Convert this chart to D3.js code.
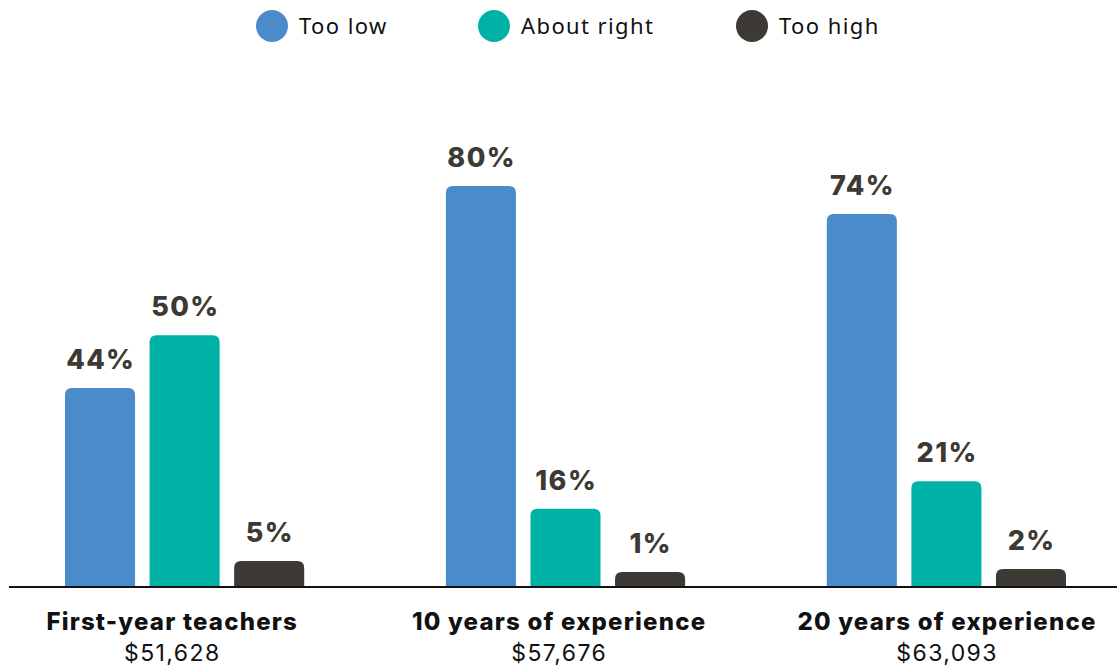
<!DOCTYPE html>
<html>
<head>
<meta charset="utf-8">
<script src="https://cdn.jsdelivr.net/npm/d3@7"></script>
<style>
  html, body { margin: 0; padding: 0; background: #fff; }
  svg { display: block; }
</style>
</head>
<body>
<svg id="chart" width="1117" height="668"></svg>
<script>
// ---- data ----
const categories = ["First-year teachers", "10 years of experience", "20 years of experience"];
const salaries = ["$51,628", "$57,676", "$63,093"];
const seriesNames = ["Too low", "About right", "Too high"];
const seriesColors = ["#4a8ccb", "#00b2a6", "#3d3935"];
// percentages as printed on the labels
const tooLow = [44, 80, 74];
const aboutRight = [50, 16, 21];
const tooHigh = [5, 1, 2];
// bar lengths as drawn in the picture (percentage units)
const tooLowDrawn = [39.7, 80, 74.4];
const aboutRightDrawn = [50.2, 15.6, 21.1];
const tooHighDrawn = [5.2, 3.0, 3.6];

const labelSeries = [tooLow, aboutRight, tooHigh];
const drawnSeries = [tooLowDrawn, aboutRightDrawn, tooHighDrawn];

const svg = d3.select("#chart");
const baseY = 587;

const x0 = d3.scaleBand().domain(categories).range([65, 1066]).paddingInner(0.372).paddingOuter(0);
const x1 = d3.scaleBand().domain(seriesNames).range([0, x0.bandwidth()]).paddingInner(0.1716).paddingOuter(0);
const y = d3.scaleLinear().domain([0, 80]).range([baseY, 186]);

function topRounded(x, yTop, w, h, r) {
  r = Math.min(r, h, w / 2);
  return `M${x},${yTop + h}V${yTop + r}Q${x},${yTop} ${x + r},${yTop}H${x + w - r}Q${x + w},${yTop} ${x + w},${yTop + r}V${yTop + h}Z`;
}

const rows = [];
categories.forEach((c, ci) => {
  seriesNames.forEach((s, si) => {
    rows.push({ cat: c, series: s, si, label: labelSeries[si][ci], drawn: drawnSeries[si][ci] });
  });
});

const g = svg.append("g");
g.selectAll("path.bar").data(rows).join("path")
  .attr("class", "bar")
  .attr("fill", d => seriesColors[d.si])
  .attr("d", d => {
    const bx = x0(d.cat) + x1(d.series);
    const yt = y(d.drawn);
    return topRounded(bx, yt, x1.bandwidth(), baseY - yt, 7);
  });

g.selectAll("text.val").data(rows).join("text")
  .attr("class", "val")
  .attr("x", d => x0(d.cat) + x1(d.series) + x1.bandwidth() / 2 + 0.7)
  .attr("y", d => y(d.drawn) - 19)
  .attr("text-anchor", "middle")
  .attr("font-family", "Inter, 'Open Sans', sans-serif")
  .attr("font-weight", 800)
  .attr("font-size", 27)
  .attr("letter-spacing", 1.4)
  .attr("fill", "#3d3935")
  .text(d => d.label + "%");

// baseline
svg.append("line")
  .attr("x1", 9).attr("x2", 1117)
  .attr("y1", baseY).attr("y2", baseY)
  .attr("stroke", "#111").attr("stroke-width", 2);

// category labels
const labelShift = [-13, -7, 0];
const cl = svg.append("g");
categories.forEach((c, i) => {
  const cx = x0(c) + x0.bandwidth() / 2 + labelShift[i];
  cl.append("text")
    .attr("x", cx + 0.6).attr("y", 630)
    .attr("text-anchor", "middle")
    .attr("font-family", "Inter, 'Open Sans', sans-serif")
    .attr("font-weight", 800)
    .attr("font-size", 24)
    .attr("letter-spacing", 1.2)
    .attr("fill", "#111")
    .text(c);
  cl.append("text")
    .attr("x", cx + 0.7).attr("y", 661)
    .attr("text-anchor", "middle")
    .attr("font-family", "Inter, 'Open Sans', sans-serif")
    .attr("font-weight", 400)
    .attr("font-size", 23)
    .attr("letter-spacing", 1.4)
    .attr("fill", "#111")
    .text(salaries[i]);
});

// legend
const legendX = [272, 494, 752];
const lg = svg.append("g");
seriesNames.forEach((s, i) => {
  lg.append("ellipse")
    .attr("cx", legendX[i]).attr("cy", 26)
    .attr("rx", 16).attr("ry", 16)
    .attr("fill", seriesColors[i]);
  lg.append("text")
    .attr("x", legendX[i] + 27).attr("y", 34)
    .attr("font-family", "'Noto Sans', sans-serif")
    .attr("font-size", 22)
    .attr("letter-spacing", 1.4)
    .attr("fill", "#111")
    .text(s);
});
</script>
</body>
</html>
